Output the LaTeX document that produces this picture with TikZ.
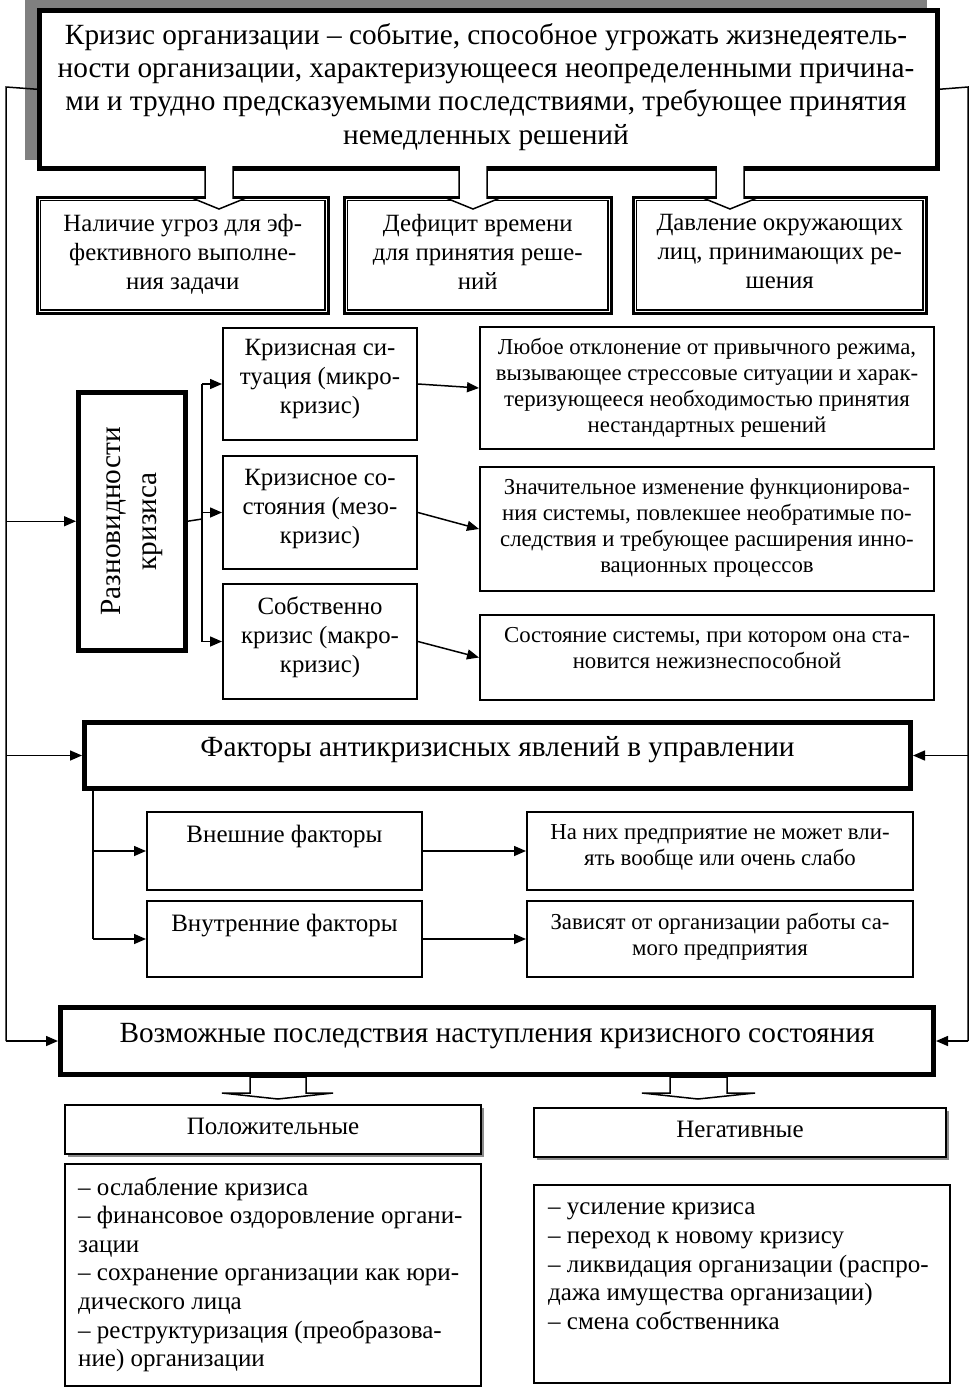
\documentclass[tikz,border=0pt]{standalone}
\usepackage{fontspec}
\setmainfont{Liberation Serif}
\usetikzlibrary{arrows.meta}
\newcommand\fA{\fontsize{29.3}{33.3}\selectfont}
\newcommand\fB{\fontsize{24.8}{29}\selectfont}
\newcommand\fC{\fontsize{22.8}{26}\selectfont}
\newcommand\fD{\fontsize{25}{28.6}\selectfont}
\newcommand\fE{\fontsize{25}{29}\selectfont}
\begin{document}
\begin{tikzpicture}[x=1pt,y=-1pt,
  box/.style={draw, line width=2pt, fill=white, inner sep=0pt, anchor=north west},
  thick box/.style={draw, line width=4.5pt, fill=white, inner sep=0pt, anchor=north west},
  txt/.style={inner sep=0pt, anchor=north, align=center},
  arr/.style={line width=1.5pt, -{Triangle[length=12pt,width=10pt]}},
  line/.style={line width=1.5pt},
  hollow/.style={draw, line width=1.5pt, fill=white, line join=miter}]
\useasboundingbox (0,0) rectangle (971,1387);

% ---------- top box ----------
\fill[black!50] (25,0) rectangle (927,160);
\node[thick box, minimum width=898, minimum height=158] (top) at (37,8) {};
\node[txt, font=\fA] (topt) at (486,23) {Кризис организации – событие, способное угрожать жизнедеятель-\\ности организации, характеризующееся неопределенными причина-\\ми и трудно предсказуемыми последствиями, требующее принятия\\немедленных решений};

% ---------- three double boxes ----------
\node[box, line width=2.5pt, minimum width=291, minimum height=116] (r1) at (36,196) {};
\node[box, line width=2.5pt, minimum width=267, minimum height=116] (r2) at (343,196) {};
\node[box, line width=2.5pt, minimum width=293, minimum height=116] (r3) at (632,196) {};
\foreach \b in {r1,r2,r3}{
  \draw[line width=1.2pt] ([shift={(4.5,4.5)}]\b.north west) rectangle ([shift={(-4.5,-4.5)}]\b.south east);
}
\node[txt, font=\fB] (r1t) at (r1.north |- 0,214) {Наличие угроз для эф-\\фективного выполне-\\ния задачи};
\node[txt, font=\fB] (r2t) at (r2.north |- 0,214) {Дефицит времени\\для принятия реше-\\ний};
\node[txt, font=\fB] (r3t) at (r3.north |- 0,214) {Давление окружающих\\лиц, принимающих ре-\\шения};

% hollow arrows top
\path[hollow] (205,166) -- (205,198) -- (192,198) -- (219,209) -- (246,198) -- (233,198) -- (233,166);
\path[hollow] (459,166) -- (459,198) -- (446,198) -- (473,209) -- (500,198) -- (487,198) -- (487,166);
\path[hollow] (716,166) -- (716,198) -- (703,198) -- (730,209) -- (757,198) -- (744,198) -- (744,166);

% ---------- kinds of crisis ----------
\node[thick box, minimum width=107, minimum height=258] (razn) at (76,390) {};
\node[inner sep=0pt, align=center, rotate=90, font=\fontsize{29.3}{36}\selectfont] (raznt) at (razn.center) {Разновидности\\кризиса};

\node[box, minimum width=194, minimum height=112] (m1) at (222,327) {};
\node[box, minimum width=194, minimum height=113] (m2) at (222,455) {};
\node[box, minimum width=194, minimum height=115] (m3) at (222,583) {};
\node[txt, font=\fB] (m1t) at (m1.north |- 0,339) {Кризисная си-\\туация (микро-\\кризис)};
\node[txt, font=\fB] (m2t) at (m2.north |- 0,469) {Кризисное со-\\стояния (мезо-\\кризис)};
\node[txt, font=\fB] (m3t) at (m3.north |- 0,597) {Собственно\\кризис (макро-\\кризис)};

\node[box, minimum width=454, minimum height=122] (d1) at (479,326) {};
\node[box, minimum width=454, minimum height=124] (d2) at (479,466) {};
\node[box, minimum width=454, minimum height=85] (d3) at (479,614) {};
\node[txt, font=\fC] (d1t) at (d1.north |- 0,338) {Любое отклонение от привычного режима,\\вызывающее стрессовые ситуации и харак-\\теризующееся необходимостью принятия\\нестандартных решений};
\node[txt, font=\fC] (d2t) at (d2.north |- 0,478) {Значительное изменение функционирова-\\ния системы, повлекшее необратимые по-\\следствия и требующее расширения инно-\\вационных процессов};
\node[txt, font=\fC] (d3t) at (d3.north |- 0,627) {Состояние системы, при котором она ста-\\новится нежизнеспособной};

\coordinate (br) at (202,519);
\draw[line] (razn.east) -- (br);
\draw[line] (br |- m1.west) -- (br |- m3.west);
\draw[arr] (br |- m1.west) -- (m1.west);
\draw[arr] (br |- m2.west) -- (m2.west);
\draw[arr] (br |- m3.west) -- (m3.west);
\draw[arr] (m1.east) -- (d1.west);
\draw[arr] (m2.east) -- (d2.west);
\draw[arr] (m3.east) -- (d3.west);

% ---------- factors ----------
\node[thick box, line width=5pt, minimum width=826, minimum height=66] (fact) at (82,720) {};
\node[txt, font=\fA] (factt) at (fact.north |- 0,736) {Факторы антикризисных явлений в управлении};

\node[box, minimum width=275, minimum height=78] (ext) at (146,811) {};
\node[box, minimum width=275, minimum height=76] (int) at (146,900) {};
\node[txt, font=\fE] (extt) at (ext.north |- 0,825) {Внешние факторы};
\node[txt, font=\fE] (intt) at (int.north |- 0,914) {Внутренние факторы};

\node[box, minimum width=386, minimum height=78] (e2) at (526,811) {};
\node[box, minimum width=386, minimum height=76] (i2) at (526,900) {};
\node[txt, font=\fC] (e2t) at (e2.north |- 0,824) {На них предприятие не может вли-\\ять вообще или очень слабо};
\node[txt, font=\fC] (i2t) at (i2.north |- 0,913) {Зависят от организации работы са-\\мого предприятия};

\coordinate (fb) at (93,786);
\draw[line] (fb) -- (fb |- int.west);
\draw[arr] (fb |- ext.west) -- (ext.west);
\draw[arr] (fb |- int.west) -- (int.west);
\draw[arr] (ext.east) -- (e2.west);
\draw[arr] (int.east) -- (i2.west);

% ---------- consequences ----------
\node[thick box, line width=5pt, minimum width=873, minimum height=67] (poss) at (58,1005) {};
\node[txt, font=\fA] (posst) at (poss.north |- 0,1023) {Возможные последствия наступления кризисного состояния};

\path[hollow] (250,1093) -- (250,1077) -- (306,1077) -- (306,1093) -- (333,1093) -- (278,1099) -- (222,1093) -- cycle;
\path[hollow] (670,1093) -- (670,1077) -- (727,1077) -- (727,1093) -- (755,1093) -- (698,1099) -- (642,1093) -- cycle;

\fill[black!45] (68,1108) rectangle (484,1157);
\fill[black!45] (537,1111) rectangle (949,1160);
\node[box, minimum width=416, minimum height=49] (pos) at (64,1104) {};
\node[box, minimum width=412, minimum height=49] (neg) at (533,1107) {};
\node[txt, font=\fE] (post) at (pos.north |- 0,1118) {Положительные};
\node[txt, font=\fE] (negt) at (neg.north |- 0,1121) {Негативные};

\node[box, minimum width=416, minimum height=222] (posl) at (64,1163) {};
\node[box, minimum width=416, minimum height=198] (negl) at (533,1184) {};
\node[inner sep=0pt, anchor=north west, align=left, font=\fD] (poslt) at (78,1177) {– ослабление кризиса\\– финансовое оздоровление органи-\\зации\\– сохранение организации как юри-\\дического лица\\– реструктуризация (преобразова-\\ние) организации};
\node[inner sep=0pt, anchor=north west, align=left, font=\fD] (neglt) at (548,1203) {– усиление кризиса\\– переход к новому кризису\\– ликвидация организации (распро-\\дажа имущества организации)\\– смена собственника};

% ---------- side feedback lines ----------
\coordinate (L0) at (6,87);
\coordinate (R0) at (968,87);
\draw[line] (top.west) -- (L0) -- (L0 |- poss.west);
\draw[arr] (L0 |- poss.west) -- (poss.west);
\draw[arr] (L0 |- razn.west) -- (razn.west);
\draw[arr] (L0 |- fact.west) -- (fact.west);
\draw[line] (top.east) -- (R0) -- (R0 |- poss.east);
\draw[arr] (R0 |- poss.east) -- (poss.east);
\draw[arr] (R0 |- fact.east) -- (fact.east);
\end{tikzpicture}
\end{document}
